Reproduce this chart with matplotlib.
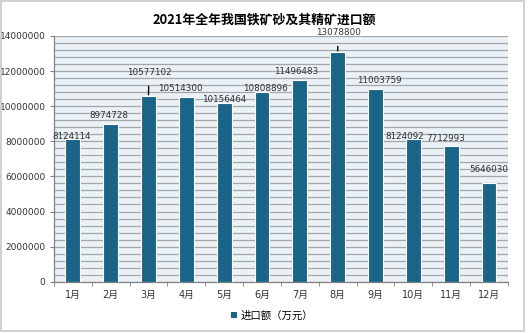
import matplotlib
matplotlib.use("Agg")
import matplotlib.pyplot as plt
from matplotlib.patches import Patch, Rectangle
from matplotlib.ticker import MultipleLocator, FixedLocator, NullFormatter
import numpy as np

plt.rcParams['font.family'] = ['DejaVu Sans', 'Noto Sans CJK SC']

months = ["1月", "2月", "3月", "4月", "5月", "6月", "7月", "8月", "9月", "10月", "11月", "12月"]
values = [8124114, 8974728, 10577102, 10514300, 10156464, 10808896,
          11496483, 13078800, 11003759, 8124092, 7712993, 5646030]
title = "2021年全年我国铁矿砂及其精矿进口额"
legend_label = "进口额（万元）"
yticks = [0, 2000000, 4000000, 6000000, 8000000, 10000000, 12000000, 14000000]

# label offsets in pixels (dx, dy) relative to the bar top centre; True = leader line
label_offsets = [(-1, 3, False), (-1.7, 9, False), (0.5, 24, True), (-6, 9, False),
                 (0, 3.5, False), (3.6, 3, False), (-4, 8, False), (0.5, 20, True),
                 (4, 8.5, False), (-8.5, 2.5, False), (-6, 8, False), (-0.7, 13, False)]

bar_color = "#1a6487"
bg_color = "#eaf2f8"
grid_color = "#a6a6a6"

fig = plt.figure(figsize=(5.28, 3.33), dpi=100)
fig.patch.set_facecolor("white")
# outer border
fig.add_artist(Rectangle((0.002, 0.006), 0.99, 0.99, transform=fig.transFigure,
                         fill=False, edgecolor="#c8c8c8", linewidth=1.2))

ax = fig.add_axes([0.102, 0.154, 0.860, 0.738])
ax.set_facecolor(bg_color)

x = np.arange(len(months))
bars = ax.bar(x, values, width=0.39, color=bar_color, edgecolor="white",
              linewidth=0.8, zorder=3)

ax.set_xlim(-0.5, len(months) - 0.5)
ax.set_ylim(0, 14000000)
ax.set_yticks(yticks)
ax.set_yticklabels([str(v) for v in yticks], fontsize=6.5, color="#333333")
ax.yaxis.set_minor_locator(MultipleLocator(400000))
ax.grid(axis="y", which="both", color=grid_color, linewidth=0.9, zorder=1)
ax.set_axisbelow(True)

ax.set_xticks(x)
ax.set_xticklabels(months, fontsize=7, color="#333333")
ax.tick_params(axis="x", which="major", length=0, pad=6)
ax.xaxis.set_minor_locator(FixedLocator(np.arange(-0.5, len(months), 1.0)))
ax.xaxis.set_minor_formatter(NullFormatter())
ax.tick_params(axis="x", which="minor", length=3, color="#808080", direction="out")
ax.tick_params(axis="y", which="major", length=3, color="#808080", pad=3)
ax.tick_params(axis="y", which="minor", length=0)

for s in ["top", "right"]:
    ax.spines[s].set_visible(False)
for s in ["left", "bottom"]:
    ax.spines[s].set_color("#808080")
    ax.spines[s].set_linewidth(0.9)

for xi, v, (dx, dy, leader) in zip(x, values, label_offsets):
    if leader:
        ax.annotate(str(v), xy=(xi, v), xytext=(dx, dy), textcoords="offset pixels",
                    ha="center", va="center", fontsize=6.3, color="#333333",
                    arrowprops=dict(arrowstyle="-", color="black", lw=1.0,
                                    shrinkA=5, shrinkB=1))
    else:
        ax.annotate(str(v), xy=(xi, v), xytext=(dx, dy), textcoords="offset pixels",
                    ha="center", va="center", fontsize=6.3, color="#333333")

fig.text(0.5, 0.943, title, ha="center", va="center", fontsize=9.3,
         fontweight="bold", family=["Noto Sans CJK SC"])

handle = Patch(facecolor=bar_color, edgecolor="none")
fig.legend([handle], [legend_label], loc="center", bbox_to_anchor=(0.515, 0.052),
           frameon=False, handlelength=0.6, handleheight=0.6,
           handletextpad=0.3, prop={"family": ["Noto Sans CJK SC"], "size": 7.5})

fig.savefig("out.png", dpi=100, facecolor="white")
